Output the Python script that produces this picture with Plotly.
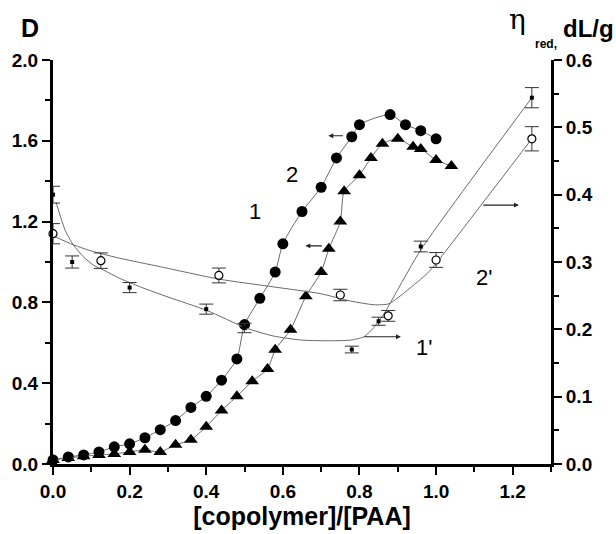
import plotly.graph_objects as go

# Curve 1 (circles, left axis D)
c1_x = [0.0, 0.04, 0.08, 0.12, 0.16, 0.20, 0.24, 0.28, 0.32, 0.36, 0.40, 0.44, 0.48, 0.50,
        0.54, 0.58, 0.60, 0.65, 0.70, 0.74, 0.78, 0.80, 0.88, 0.92, 0.96, 1.00]
c1_y = [0.02, 0.035, 0.045, 0.06, 0.085, 0.10, 0.13, 0.17, 0.215, 0.28, 0.335, 0.415, 0.52, 0.69,
        0.82, 0.95, 1.09, 1.25, 1.37, 1.515, 1.62, 1.68, 1.73, 1.68, 1.65, 1.61]

# Curve 2 (triangles, left axis D)
c2_x = [0.0, 0.04, 0.08, 0.12, 0.16, 0.20, 0.24, 0.28, 0.32, 0.36, 0.40, 0.44, 0.48, 0.52, 0.56,
        0.58, 0.62, 0.66, 0.70, 0.72, 0.75, 0.76, 0.80, 0.83, 0.86, 0.90, 0.94, 0.96, 1.00, 1.04]
c2_y = [0.02, 0.03, 0.038, 0.045, 0.05, 0.06, 0.07, 0.06, 0.095, 0.12, 0.185, 0.265, 0.335, 0.41, 0.47,
        0.565, 0.665, 0.83, 0.95, 1.065, 1.20, 1.35, 1.43, 1.515, 1.585, 1.61, 1.57, 1.56, 1.505, 1.475]

# Curve 1' (small filled points, right axis eta_red)
p1_x = [0.0, 0.05, 0.20, 0.40, 0.50, 0.78, 0.85, 0.96, 1.25]
p1_y = [0.40, 0.30, 0.262, 0.23, 0.202, 0.17, 0.212, 0.323, 0.544]
p1_err = [0.0125, 0.009, 0.0075, 0.0075, 0.007, 0.005, 0.006, 0.008, 0.015]

# Curve 2' (open circles, right axis eta_red)
p2_x = [0.0, 0.125, 0.433, 0.75, 0.875, 1.0, 1.25]
p2_y = [0.342, 0.302, 0.28, 0.251, 0.22, 0.303, 0.483]
p2_err = [0.015, 0.0115, 0.011, 0.0085, 0.008, 0.011, 0.018]

# Fitted guide curves for 1' and 2'
f1_x = [0.008, 0.031, 0.053, 0.079, 0.105, 0.132, 0.175, 0.228, 0.30, 0.402, 0.504, 0.576, 0.65,
        0.725, 0.777, 0.812, 0.838, 0.864, 0.899, 0.96, 1.25]
f1_y = [0.389, 0.348, 0.3255, 0.308, 0.2955, 0.288, 0.2755, 0.263, 0.248, 0.228, 0.202, 0.19, 0.184,
        0.183, 0.184, 0.189, 0.203, 0.223, 0.258, 0.318, 0.544]
f2_x = [0.0, 0.053, 0.105, 0.175, 0.28, 0.434, 0.576, 0.698, 0.777, 0.838, 0.877, 0.925, 0.977, 1.0, 1.25]
f2_y = [0.339, 0.3255, 0.3155, 0.3055, 0.293, 0.2745, 0.263, 0.253, 0.242, 0.2365, 0.238, 0.258,
        0.283, 0.298, 0.483]

x_ticks = [0.0, 0.2, 0.4, 0.6, 0.8, 1.0, 1.2]
y_ticks = [0.0, 0.4, 0.8, 1.2, 1.6, 2.0]
y2_ticks = [0.0, 0.1, 0.2, 0.3, 0.4, 0.5, 0.6]

FONT = "Liberation Sans, Arial, sans-serif"
LINE = "#6a6a6a"

W, H = 616, 534
ML, MR, MT, MB = 53, 65, 60, 70
PW, PH = W - ML - MR, H - MT - MB


def px_to_paper(px, py):
    return (px - ML) / PW, (H - MB - py) / PH


fig = go.Figure()

# guide curves
fig.add_trace(go.Scatter(x=f1_x, y=f1_y, yaxis="y2", mode="lines",
                         line=dict(color=LINE, width=1, shape="spline", smoothing=0.6),
                         hoverinfo="skip"))
fig.add_trace(go.Scatter(x=f2_x, y=f2_y, yaxis="y2", mode="lines",
                         line=dict(color=LINE, width=1, shape="spline", smoothing=0.6),
                         hoverinfo="skip"))

# D curves
fig.add_trace(go.Scatter(x=c1_x, y=c1_y, mode="lines+markers", cliponaxis=False,
                         line=dict(color=LINE, width=1, shape="spline", smoothing=0.6),
                         marker=dict(symbol="circle", size=11, color="black")))
fig.add_trace(go.Scatter(x=c2_x, y=c2_y, mode="lines+markers", cliponaxis=False,
                         line=dict(color=LINE, width=1, shape="spline", smoothing=0.6),
                         marker=dict(symbol="triangle-up", size=12, color="black")))

# viscosity points
fig.add_trace(go.Scatter(x=p1_x, y=p1_y, yaxis="y2", mode="markers", cliponaxis=False,
                         marker=dict(symbol="square", size=4, color="black"),
                         error_y=dict(type="data", array=p1_err, visible=True,
                                      thickness=1, width=7, color="#333")))
fig.add_trace(go.Scatter(x=p2_x, y=p2_y, yaxis="y2", mode="markers", cliponaxis=False,
                         marker=dict(symbol="circle", size=8, color="white",
                                     line=dict(color="black", width=1.2)),
                         error_y=dict(type="data", array=p2_err, visible=True,
                                      thickness=1, width=7, color="#333")))

tickfont = dict(family=FONT, size=19, color="black", weight="bold")

fig.update_layout(
    width=W, height=H,
    margin=dict(l=ML, r=MR, t=MT, b=MB),
    paper_bgcolor="white", plot_bgcolor="white",
    showlegend=False,
    font=dict(family=FONT, color="black"),
    xaxis=dict(range=[0, 1.3], showgrid=False, zeroline=False, showline=True,
               linecolor="black", linewidth=3, mirror=False,
               ticks="outside", ticklen=8, tickwidth=2, tickcolor="black",
               tickvals=x_ticks, ticktext=[f"{v:.1f}" for v in x_ticks],
               tickfont=tickfont,
               minor=dict(dtick=0.1, ticks="outside", ticklen=5, tickwidth=2, tickcolor="black"),
               title=dict(text="[copolymer]/[PAA]", standoff=7,
                          font=dict(family=FONT, size=25, weight="bold", color="black")),
               automargin=False),
    yaxis=dict(range=[0, 2.0], showgrid=False, zeroline=False, showline=True,
               linecolor="black", linewidth=3,
               ticks="outside", ticklen=8, tickwidth=2, tickcolor="black",
               tickvals=y_ticks, ticktext=[f"{v:.1f}" for v in y_ticks],
               tickfont=tickfont,
               minor=dict(dtick=0.2, ticks="outside", ticklen=5, tickwidth=2, tickcolor="black"),
               automargin=False),
    yaxis2=dict(range=[0, 0.6], overlaying="y", side="right", anchor="x",
                showgrid=False, zeroline=False, showline=True,
                linecolor="black", linewidth=3,
                ticks="outside", ticklen=8, tickwidth=2, tickcolor="black",
                tickvals=y2_ticks, ticktext=[f"{v:.1f}" for v in y2_ticks],
                tickfont=tickfont,
                minor=dict(dtick=0.05, ticks="outside", ticklen=5, tickwidth=2, tickcolor="black"),
                automargin=False),
)

anns = []
# axis labels placed by pixel position
for text, px, py, fnt in [
    ("D", 30, 27.5, dict(family=FONT, size=25, weight="bold")),
    ("η", 517, 20, dict(family="DejaVu Serif, serif", size=28)),
    ("red,", 546, 44, dict(family=FONT, size=12, weight="bold")),
    ("dL/g", 588, 29, dict(family=FONT, size=24, weight="bold")),
]:
    xp, yp = px_to_paper(px, py)
    anns.append(dict(text=text, x=xp, y=yp, xref="paper", yref="paper", showarrow=False,
                     xanchor="center", yanchor="middle", font=fnt))

# curve number labels
lab_font = dict(family=FONT, size=22, color="black")
anns += [
    dict(text="1", x=0.528, y=1.25, xref="x", yref="y", showarrow=False, font=lab_font),
    dict(text="2", x=0.624, y=1.435, xref="x", yref="y", showarrow=False, font=lab_font),
    dict(text="1'", x=0.968, y=0.173, xref="x", yref="y2", showarrow=False, font=lab_font),
    dict(text="2'", x=1.124, y=0.277, xref="x", yref="y2", showarrow=False, font=lab_font),
]

# axis-indicating arrows
arr = dict(text="", showarrow=True, arrowhead=2, arrowsize=0.8, arrowwidth=1.2,
           arrowcolor="#222", standoff=0, startstandoff=0)
anns += [
    dict(x=0.719, y=1.625, xref="x", yref="y", ax=16, ay=0, **arr),
    dict(x=0.659, y=1.08, xref="x", yref="y", ax=18, ay=0, **arr),
    dict(x=0.908, y=0.189, xref="x", yref="y2", ax=-38, ay=0, **arr),
    dict(x=1.216, y=0.3845, xref="x", yref="y2", ax=-37, ay=0, **arr),
]
fig.update_layout(annotations=anns)

fig.write_html("out.html", config={"displayModeBar": False},
               post_script="document.body.style.margin='0';")
